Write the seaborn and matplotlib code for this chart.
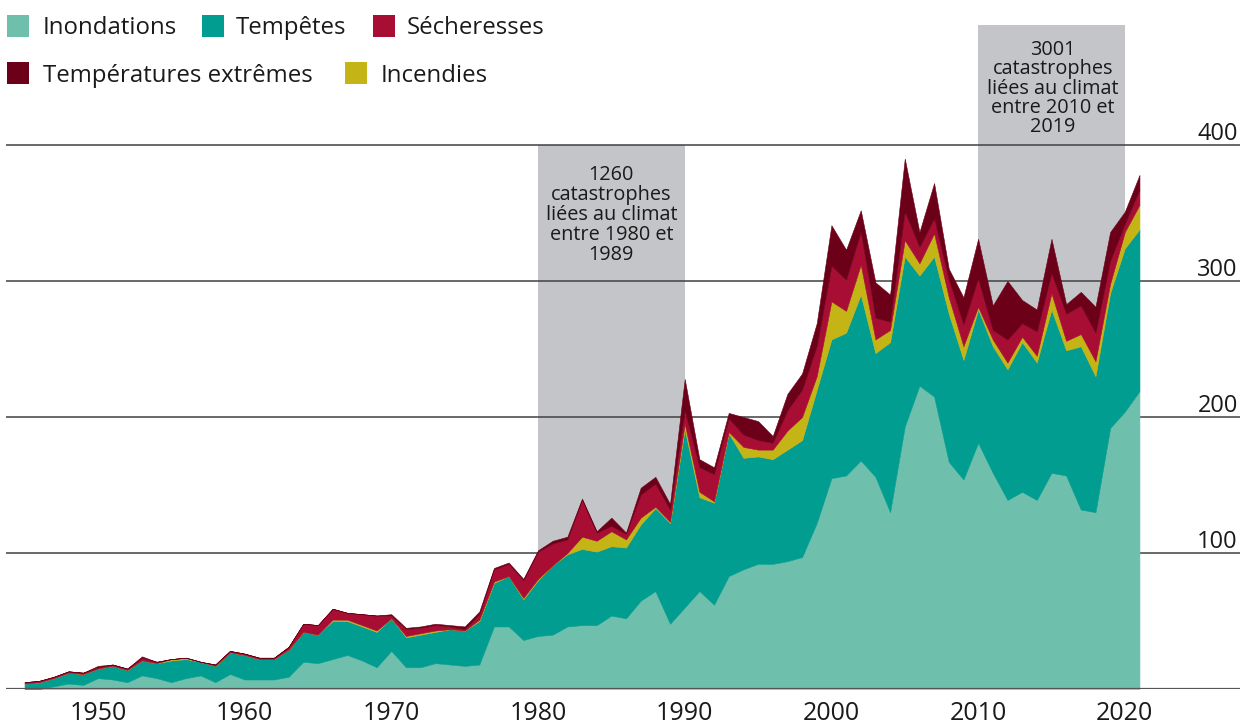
import matplotlib
matplotlib.use("Agg")
import matplotlib.pyplot as plt
import seaborn as sns
import pandas as pd
from matplotlib.patches import Rectangle

# ---------------- data ----------------
years = list(range(1945, 2022))
inondations = [0, 0, 2, 4, 3, 8, 7, 5, 10, 8, 5, 8, 10, 5, 11, 7, 7, 7, 9, 20,
               19, 22, 25, 21, 16, 28, 16, 16, 19, 18, 17, 18, 46, 46, 36, 39, 40, 46, 47, 47,
               54, 52, 65, 72, 48, 60, 72, 62, 83, 88, 92, 92, 94, 97, 122, 155, 157, 168, 156, 130,
               193, 223, 215, 167, 154, 181, 159, 139, 145, 139, 159, 157, 132, 130, 192, 204, 219]
tempetes = [4, 5, 6, 8, 8, 7, 10, 9, 11, 11, 16, 14, 10, 12, 16, 18, 15, 15, 20, 22,
            21, 28, 25, 25, 26, 24, 22, 24, 23, 26, 26, 32, 32, 37, 30, 41, 51, 53, 56, 54,
            51, 52, 56, 61, 74, 131, 69, 75, 105, 82, 79, 77, 82, 86, 98, 102, 105, 122, 91, 125,
            125, 81, 103, 109, 88, 98, 93, 96, 110, 101, 120, 92, 120, 100, 99, 120, 119]
incendies = [0, 0, 0, 0, 0, 0, 0, 0, 0, 0, 1, 1, 0, 0, 0, 0, 0, 0, 0, 0,
             0, 1, 1, 1, 1, 0, 1, 1, 1, 0, 0, 1, 1, 0, 1, 1, 0, 1, 9, 8,
             11, 6, 5, 1, 1, 4, 4, 1, 1, 8, 5, 7, 14, 17, 10, 28, 16, 22, 10, 9,
             12, 9, 17, 12, 10, 2, 5, 5, 4, 5, 12, 7, 9, 11, 7, 12, 18]
secheresses = [1, 1, 1, 1, 1, 1, 1, 1, 2, 1, 0, 0, 0, 1, 1, 1, 1, 1, 2, 6,
               7, 8, 5, 8, 11, 2, 5, 4, 4, 2, 1, 4, 9, 9, 13, 20, 16, 10, 27, 6,
               4, 4, 17, 17, 9, 10, 18, 20, 10, 9, 7, 5, 15, 20, 22, 26, 23, 24, 16, 6,
               21, 12, 11, 13, 16, 21, 7, 17, 10, 18, 15, 20, 21, 21, 17, 6, 11]
temperatures = [0, 0, 0, 0, 0, 1, 0, 0, 1, 0, 0, 0, 0, 0, 0, 0, 0, 0, 0, 0,
                0, 0, 0, 0, 0, 1, 1, 1, 1, 1, 2, 2, 1, 1, 1, 1, 2, 2, 1, 1,
                6, 1, 5, 5, 4, 23, 6, 5, 4, 13, 14, 5, 12, 12, 17, 30, 22, 16, 26, 20,
                39, 11, 26, 8, 20, 29, 18, 43, 17, 16, 25, 7, 10, 19, 21, 9, 11]

series_names = ["Inondations", "Tempêtes", "Incendies", "Sécheresses", "Températures extrêmes"]
tick_years = [1950, 1960, 1970, 1980, 1990, 2000, 2010, 2020]
grid_values = [100, 200, 300, 400]
annotation_1 = ["1260", "catastrophes", "liées au climat", "entre 1980 et", "1989"]
annotation_2 = ["3001", "catastrophes", "liées au climat", "entre 2010 et", "2019"]
bands = [(1980, 1990, 400), (2010, 2020, 488)]

df = pd.DataFrame({"Année": years, "Inondations": inondations, "Tempêtes": tempetes,
                   "Incendies": incendies, "Sécheresses": secheresses,
                   "Températures extrêmes": temperatures})

# ---------------- style ----------------
sns.set_theme(style="white")
plt.rcParams["font.family"] = ["Open Sans", "DejaVu Sans"]
palette = dict(zip(series_names,
                   sns.color_palette(["#6fbfad", "#009d90", "#c4b416", "#a80e33", "#6d0019"])))
TXT = "#1a1a1a"
GRAY = "#c4c5c8"

W, H = 1246, 725
fig = plt.figure(figsize=(W / 100, H / 100), dpi=100)
fig.patch.set_facecolor("white")

# axes placed so that 1980 -> px 538, 14.67 px / year ; 0 -> px 689, 1.36 px / unit
px_year = 14.67
px_unit = 1.36
x_left_px, x_right_px = 6, 1240
xmin = 1980 - (538 - x_left_px) / px_year
xmax = 1980 + (x_right_px - 538) / px_year
y_bot_px, y_top_px = 689, 20
ymax = (y_bot_px - y_top_px) / px_unit
ax = fig.add_axes([x_left_px / W, (H - y_bot_px) / H,
                   (x_right_px - x_left_px) / W, (y_bot_px - y_top_px) / H])
ax.set_xlim(xmin, xmax)
ax.set_ylim(0, ymax)
ax.set_facecolor("none")
for s in ax.spines.values():
    s.set_visible(False)

# gray bands
for x0, x1, top in bands:
    ax.fill_between([x0, x1], 0, top, color=GRAY, linewidth=0, zorder=0)

# grid lines + right-hand labels
for v in grid_values:
    ax.axhline(v, color="#404040", linewidth=1.1, zorder=1)
    ax.text(xmax - 0.15, v + 4, str(v), ha="right", va="baseline", fontsize=17,
            color=TXT, zorder=5)
ax.axhline(0, color="#555555", linewidth=1.6, zorder=4)

# stacked areas
ax.stackplot(df["Année"], *[df[n] for n in series_names],
             colors=[palette[n] for n in series_names], linewidth=0.4,
             edgecolor="face", zorder=2)

# annotations, one line at a time (baselines in pixel rows)
def draw_note(lines, xc, first_baseline_px, step_px):
    for i, line in enumerate(lines):
        yb = (y_bot_px - (first_baseline_px + i * step_px)) / px_unit
        ax.text(xc, yb, line, ha="center", va="baseline", fontsize=14.3,
                color=TXT, zorder=5)

draw_note(annotation_1, 1985, 180, 20)
draw_note(annotation_2, 2015.1, 55, 19.3)

# x ticks
ax.set_xticks(tick_years)
ax.set_xticklabels([str(y) for y in tick_years], fontsize=18, color=TXT)
ax.tick_params(axis="x", length=0, pad=9)
ax.set_yticks([])

# legend (manual, two rows)
def px2fig(x, y):
    return x / W, (H - y) / H

legend_items = [
    ("Inondations", 7, 15, 43),
    ("Tempêtes", 202, 15, 236),
    ("Sécheresses", 373, 15, 407),
    ("Températures extrêmes", 7, 62, 43),
    ("Incendies", 345, 62, 381),
]
for name, sx, sy, tx in legend_items:
    fx, fy = px2fig(sx, sy + 22)
    fig.patches.append(Rectangle((fx, fy), 22 / W, 22 / H, transform=fig.transFigure,
                                 facecolor=palette[name], edgecolor="none"))
    tx_f, ty_f = px2fig(tx, sy + 19.5)
    fig.text(tx_f, ty_f, name, ha="left", va="baseline", fontsize=17.3, color=TXT)

fig.savefig("out.png", dpi=100, facecolor="white")
